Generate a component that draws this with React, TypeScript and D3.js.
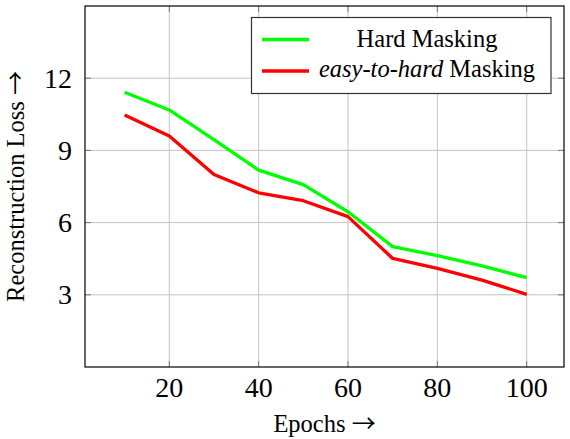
import React from "react";
import * as d3 from "d3";

const epochs = [10, 20, 30, 40, 50, 60, 70, 80, 90, 100];
const hardMasking = [11.42, 10.68, 9.45, 8.18, 7.58, 6.45, 5.0, 4.63, 4.2, 3.71];
const easyToHard = [10.47, 9.6, 8.0, 7.24, 6.91, 6.25, 4.51, 4.1, 3.61, 3.02];
const xTicks = [20, 40, 60, 80, 100];
const yTicks = [3, 6, 9, 12];

const W = 570;
const H = 439;
const plot = { left: 85, right: 564, top: 6, bottom: 367 };

const serif = "'Liberation Serif', 'Times New Roman', serif";
const arrowFont = "'Noto Sans CJK JP', 'DejaVu Serif', serif";

const App: React.FC = () => {
  const x = d3.scaleLinear().domain([1.13, 108.35]).range([plot.left, plot.right]);
  const y = d3.scaleLinear().domain([0, 15]).range([plot.bottom, plot.top]);

  const line = d3
    .line<[number, number]>()
    .x(d => x(d[0]))
    .y(d => y(d[1]));

  const hardPath = line(epochs.map((e, i) => [e, hardMasking[i]]) as [number, number][]) || "";
  const easyPath = line(epochs.map((e, i) => [e, easyToHard[i]]) as [number, number][]) || "";

  const tickLen = 6;

  return (
    <svg
      width={W}
      height={H}
      style={{ position: "absolute", left: 0, top: 0, background: "#fff" }}
      fontFamily={serif}
    >
      {/* grid */}
      {xTicks.map(t => (
        <line key={"gx" + t} x1={x(t)} x2={x(t)} y1={plot.top} y2={plot.bottom} stroke="#c4c4c4" strokeWidth={1} />
      ))}
      {yTicks.map(t => (
        <line key={"gy" + t} x1={plot.left} x2={plot.right} y1={y(t)} y2={y(t)} stroke="#c4c4c4" strokeWidth={1} />
      ))}

      {/* ticks on all four sides */}
      {xTicks.map(t => (
        <g key={"tx" + t} stroke="#777" strokeWidth={1}>
          <line x1={x(t)} x2={x(t)} y1={plot.bottom} y2={plot.bottom - tickLen} />
          <line x1={x(t)} x2={x(t)} y1={plot.top} y2={plot.top + tickLen} />
        </g>
      ))}
      {yTicks.map(t => (
        <g key={"ty" + t} stroke="#777" strokeWidth={1}>
          <line x1={plot.left} x2={plot.left + tickLen} y1={y(t)} y2={y(t)} />
          <line x1={plot.right} x2={plot.right - tickLen} y1={y(t)} y2={y(t)} />
        </g>
      ))}

      {/* series */}
      <path d={hardPath} fill="none" stroke="#00ff00" strokeWidth={3.3} strokeLinejoin="round" />
      <path d={easyPath} fill="none" stroke="#ff0000" strokeWidth={3.3} strokeLinejoin="round" />

      {/* axis box */}
      <rect
        x={plot.left}
        y={plot.top}
        width={plot.right - plot.left}
        height={plot.bottom - plot.top}
        fill="none"
        stroke="#000"
        strokeWidth={1.2}
      />

      {/* tick labels */}
      {xTicks.map(t => (
        <text key={"lx" + t} x={x(t)} y={397} textAnchor="middle" fontSize={28} fill="#000">
          {t}
        </text>
      ))}
      {yTicks.map(t => (
        <text key={"ly" + t} x={72} y={y(t) + 9.5} textAnchor="end" fontSize={28} fill="#000">
          {t}
        </text>
      ))}

      {/* axis titles */}
      <text x={(plot.left + plot.right) / 2} y={432} textAnchor="middle" fontSize={24.5} fill="#000">
        Epochs <tspan fontFamily={arrowFont} fontSize={24}>→</tspan>
      </text>
      <text
        transform={`translate(24,${(plot.top + plot.bottom) / 2}) rotate(-90)`}
        textAnchor="middle"
        fontSize={24.5}
        fill="#000"
      >
        Reconstruction Loss <tspan fontFamily={arrowFont} fontSize={24}>→</tspan>
      </text>

      {/* legend */}
      <g>
        <rect x={251.5} y={17.5} width={299.5} height={76} fill="#fff" stroke="#333" strokeWidth={1.2} />
        <line x1={262} x2={309} y1={39.5} y2={39.5} stroke="#00ff00" strokeWidth={3.3} />
        <line x1={262} x2={309} y1={71} y2={71} stroke="#ff0000" strokeWidth={3.3} />
        <text x={427} y={46.7} textAnchor="middle" fontSize={24.5} fill="#000">
          Hard Masking
        </text>
        <text x={427} y={77.3} textAnchor="middle" fontSize={24.5} fill="#000">
          <tspan fontStyle="italic">easy-to-hard</tspan> Masking
        </text>
      </g>
    </svg>
  );
};

export default App;
